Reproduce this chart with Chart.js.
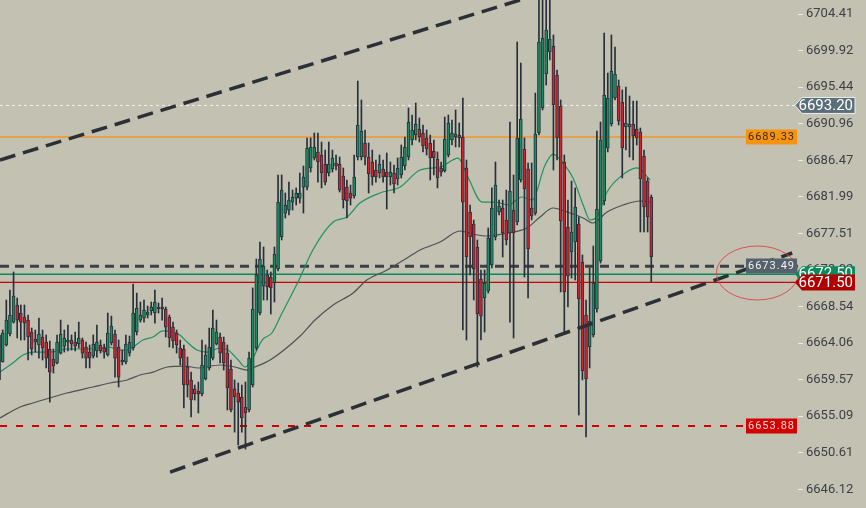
<!DOCTYPE html>
<html><head><meta charset="utf-8">
<script src="https://cdn.jsdelivr.net/npm/chart.js@4.4.0/dist/chart.umd.min.js"></script>
<style>html,body{margin:0;padding:0;background:#c2c1b2;overflow:hidden}canvas{display:block}</style>
</head><body>
<canvas id="c" width="866" height="508"></canvas>
<script>
// ---- data ----
const firstIndex = -1;
const opens = [6659.53,6661.73,6663.82,6665.17,6666.63,6668.73,6667.74,6667.25,6666.88,6665.41,6664.55,6663.82,6664.80,6664.18,6663.33,6662.10,6661.61,6662.83,6663.69,6664.18,6664.43,6664.18,6663.94,6664.43,6663.57,6662.95,6662.46,6663.08,6663.82,6663.45,6662.59,6664.06,6665.17,6663.57,6661.73,6661.73,6662.83,6663.45,6665.41,6666.88,6667.13,6667.50,6667.99,6667.74,6668.48,6668.48,6668.23,6667.25,6666.02,6665.29,6663.45,6663.33,6661.12,6659.53,6658.43,6658.18,6657.81,6659.65,6661.00,6662.22,6663.94,6664.80,6664.18,6662.83,6660.87,6658.43,6657.93,6657.44,6656.22,6655.85,6658.91,6663.45,6667.74,6671.05,6672.40,6672.16,6671.42,6673.14,6677.06,6680.00,6680.37,6681.35,6681.84,6681.84,6683.19,6683.19,6685.53,6686.75,6687.49,6687.12,6686.02,6684.91,6685.40,6686.14,6686.02,6684.54,6683.19,6682.46,6682.09,6686.88,6686.88,6688.59,6686.88,6686.26,6685.28,6684.91,6685.40,6685.03,6684.42,6684.91,6684.18,6684.67,6685.77,6686.88,6688.96,6689.57,6690.31,6689.82,6689.21,6688.59,6687.61,6686.63,6685.53,6685.16,6687.12,6688.96,6689.33,6689.57,6689.33,6685.53,6680.13,6678.66,6675.84,6671.91,6669.58,6670.44,6673.63,6677.06,6680.13,6680.62,6679.15,6677.55,6680.37,6678.90,6684.05,6687.86,6685.40,6680.62,6680.00,6689.82,6692.89,6697.05,6699.75,6700.49,6696.93,6693.13,6686.26,6678.29,6675.22,6676.45,6678.66,6674.00,6667.50,6663.57,6665.05,6668.23,6674.12,6681.48,6687.98,6690.92,6694.11,6695.58,6693.62,6690.55,6690.55,6690.92,6690.31,6689.94,6687.00,6683.93,6681.97];
const highs = [6665.66,6665.66,6669.34,6670.56,6672.77,6669.58,6668.73,6668.73,6667.50,6665.90,6665.66,6667.13,6665.66,6665.05,6664.31,6663.33,6665.05,6666.88,6665.66,6666.27,6665.05,6665.41,6666.63,6664.68,6664.18,6663.82,6665.05,6666.27,6664.43,6663.94,6667.74,6667.37,6665.66,6664.43,6663.20,6665.05,6664.92,6671.30,6670.19,6669.09,6669.34,6668.60,6669.09,6670.56,6668.97,6669.58,6668.48,6667.50,6666.63,6665.66,6664.43,6663.82,6662.34,6660.50,6658.91,6659.28,6664.43,6663.82,6665.90,6668.11,6666.88,6665.29,6664.80,6663.82,6661.98,6659.53,6659.16,6658.91,6659.28,6662.95,6670.81,6674.36,6676.45,6675.84,6673.02,6672.77,6675.84,6684.67,6684.67,6682.46,6683.80,6682.83,6683.08,6684.91,6685.77,6689.21,6689.21,6689.82,6689.82,6688.71,6687.73,6688.71,6687.73,6687.12,6686.88,6685.53,6684.05,6683.44,6687.12,6696.19,6693.87,6690.19,6688.59,6687.73,6686.51,6687.12,6686.51,6687.37,6686.26,6685.89,6686.75,6688.35,6689.33,6692.89,6692.03,6693.50,6691.66,6690.80,6690.19,6689.57,6688.96,6687.49,6686.26,6691.78,6692.03,6691.41,6692.64,6691.05,6694.11,6686.51,6680.99,6679.15,6676.70,6673.02,6673.02,6678.17,6683.08,6686.26,6681.60,6681.60,6682.83,6691.17,6684.67,6700.98,6698.40,6689.21,6686.14,6686.14,6694.72,6707.40,6706.74,6706.13,6706.74,6701.84,6697.54,6693.87,6687.12,6681.60,6683.93,6683.08,6679.52,6674.86,6669.34,6673.26,6675.96,6690.06,6691.17,6702.08,6697.18,6701.84,6700.37,6696.32,6695.09,6695.46,6694.36,6693.74,6693.74,6690.43,6687.73,6684.30,6682.22];
const lows = [6658.67,6661.73,6663.69,6664.92,6666.51,6664.68,6664.43,6664.43,6661.98,6662.59,6662.95,6662.22,6661.98,6661.00,6656.82,6660.38,6661.49,6662.71,6662.95,6663.08,6663.20,6663.08,6663.45,6662.22,6661.00,6661.00,6662.22,6662.34,6662.83,6662.22,6662.46,6663.82,6659.89,6658.67,6661.37,6661.49,6662.46,6663.20,6665.05,6666.63,6666.63,6667.13,6667.50,6666.51,6667.74,6666.88,6664.80,6663.57,6663.45,6662.83,6661.37,6656.09,6657.44,6654.99,6657.07,6655.48,6657.56,6659.53,6660.75,6661.98,6663.82,6661.61,6660.75,6655.85,6655.60,6653.14,6651.55,6653.14,6651.06,6655.60,6658.67,6663.20,6667.50,6669.34,6669.34,6667.62,6669.09,6672.89,6676.70,6679.39,6679.76,6680.37,6680.99,6681.23,6680.00,6682.83,6685.03,6686.51,6683.80,6683.08,6683.44,6684.54,6685.03,6685.28,6682.58,6680.62,6679.39,6680.99,6681.84,6686.51,6686.51,6685.89,6682.46,6683.44,6683.80,6684.30,6683.80,6680.50,6683.44,6682.46,6683.44,6684.30,6685.28,6686.51,6688.35,6688.96,6688.71,6687.49,6687.12,6684.05,6684.67,6683.08,6684.54,6685.03,6686.88,6688.35,6688.10,6688.10,6665.66,6664.43,6672.40,6669.34,6661.12,6664.43,6665.41,6670.19,6673.26,6676.70,6679.76,6674.61,6676.09,6666.63,6664.68,6678.54,6683.80,6672.16,6669.58,6679.15,6679.76,6689.57,6692.64,6695.70,6698.77,6685.28,6686.51,6670.32,6665.41,6668.48,6672.03,6671.79,6655.23,6659.53,6652.54,6661.00,6664.80,6667.86,6673.87,6680.99,6687.49,6690.68,6693.87,6690.80,6684.30,6687.73,6686.88,6686.51,6688.35,6677.68,6677.68,6677.68,6671.54];
const closes = [6665.05,6665.29,6666.88,6667.50,6669.82,6666.88,6666.63,6666.51,6664.80,6663.33,6664.18,6665.17,6663.45,6662.22,6660.50,6661.24,6664.18,6665.17,6664.68,6664.43,6663.94,6663.69,6664.68,6662.83,6662.22,6662.22,6663.94,6664.18,6663.08,6662.95,6665.29,6666.14,6662.22,6659.89,6661.98,6663.94,6664.18,6667.74,6668.36,6667.50,6668.11,6667.86,6668.48,6669.09,6668.23,6668.23,6666.02,6664.68,6664.31,6663.82,6662.22,6658.91,6658.91,6657.07,6657.81,6657.81,6661.37,6662.59,6663.57,6665.90,6665.41,6662.83,6661.61,6658.55,6655.85,6657.44,6656.82,6654.87,6655.48,6662.22,6668.23,6672.40,6674.36,6673.51,6670.93,6670.81,6674.98,6681.35,6682.83,6680.99,6681.60,6681.97,6682.46,6682.46,6684.42,6687.98,6688.10,6688.10,6686.26,6684.91,6683.80,6686.02,6686.75,6685.77,6682.83,6681.60,6681.48,6681.84,6684.42,6690.80,6690.06,6686.88,6684.79,6684.42,6684.42,6686.02,6684.42,6684.42,6685.03,6683.56,6685.53,6686.88,6688.10,6691.17,6690.19,6690.92,6689.33,6688.22,6687.86,6686.75,6686.75,6684.30,6685.03,6689.08,6691.05,6689.82,6689.70,6689.21,6681.35,6674.61,6677.06,6673.14,6667.62,6667.37,6671.42,6676.94,6680.62,6683.44,6680.86,6677.55,6676.70,6682.71,6677.55,6689.21,6691.54,6682.95,6675.59,6679.64,6689.70,6700.98,6701.47,6702.45,6701.35,6693.25,6689.21,6679.03,6670.32,6672.28,6677.68,6680.74,6669.46,6660.63,6659.65,6666.76,6671.42,6680.50,6688.96,6694.48,6694.11,6697.42,6697.05,6691.29,6687.98,6691.05,6690.92,6689.45,6689.21,6684.18,6680.74,6679.52,6674.61];

const fastMaIdx = [-0.75,2.8,5.6,8.4,13.1,17.7,23.3,29.6,31.8,34.3,36,38.7,41.5,44.2,47,48.9,50.9,53.6,56.4,60,62.2,65,66.9,68.8,71.6,74.3,77.1,81.5,85.6,91.2,95,98.6,104.1,109.7,115.2,120.7,125.7,128.4,132.3,135.9,139.5,143.3,146.1,149.7,151.9,154.6,157.4,160.2,162.1,164,166.8,170.4,175.1,178.7];
const fastMaVal = [6660.50,6661.61,6662.59,6662.95,6662.95,6663.33,6663.33,6663.57,6663.20,6663.20,6663.57,6664.43,6664.80,6665.54,6665.41,6665.05,6664.18,6663.20,6662.95,6663.45,6663.20,6661.98,6661.12,6661.98,6664.43,6665.29,6667.74,6671.54,6675.47,6678.90,6679.52,6681.23,6682.46,6683.19,6685.28,6685.65,6686.75,6684.42,6681.35,6681.35,6680.99,6681.97,6681.60,6685.89,6687.24,6686.14,6684.30,6680.99,6679.15,6679.52,6682.58,6684.42,6685.53,6684.05];
const slowMaIdx = [-0.75,4.8,8.4,17.7,24.9,29.6,34.3,37.9,41.5,45.4,50.3,53.9,60,64.1,67.4,69.6,73.8,82.1,86.2,91.2,96.7,100.5,106.1,111.6,115.2,120.7,126.2,129.8,133.7,139.2,144.7,148.3,151.9,155.8,160.2,162.9,166.8,171.2,175.9,178.7];
const slowMaVal = [6654.87,6656.22,6656.71,6657.93,6658.67,6659.16,6659.53,6660.14,6660.50,6661.12,6661.24,6661.00,6661.37,6661.12,6660.75,6661.12,6661.98,6664.92,6666.88,6668.73,6670.19,6671.79,6673.02,6674.49,6675.47,6676.45,6677.80,6677.43,6677.19,6677.55,6678.17,6679.52,6680.62,6680.13,6679.39,6678.78,6680.13,6680.99,6681.48,6681.35];

const yTicks = [6704.41,6699.92,6695.44,6690.96,6686.47,6681.99,6677.51,6673.02,6668.54,6664.06,6659.57,6655.09,6650.61,6646.12];
const levelValues = [6693.20, 6689.33, 6673.49, 6672.50, 6671.50, 6653.88];
const levelColors = ['#f2f2ec', '#e9a04a', '#384248', '#0d8a5c', '#c80000', '#cc0000'];
const levelWidths = [1, 2, 3, 1.6, 1.4, 2];
const levelDashes = [[3,3], [], [9,6], [], [], [7,9]];
const upperTrendIdx = [-0.75, 160];
const upperTrendVal = [6686.51, 6708.48];
const lowerTrendIdx = [46.2, 217.9];
const lowerTrendVal = [6648.24, 6675.10];
const boxValues = [6689.33, 6673.49, 6653.88];
const boxFills = ['#f6930f', '#56626b', '#d20000'];
const boxText = ['#3b2a10', '#f2f2f2', '#ffd6d6'];
const markerValues = [6693.20, 6672.50, 6671.50];
const markerFills = ['#5a6f7a', '#0a8a5a', '#b00000'];
const ellipseIdx = 208.3, ellipseVal = 6672.65;

const xMin = -0.745, xMax = 219.5;
const yMin = 6643.83, yMax = 6706.13;

// ---- build datasets ----
const idx = opens.map((_, k) => firstIndex + k);
const up = opens.map((o, k) => closes[k] >= o);
const GREEN = '#178f60', RED = '#d7202d', EDGE = '#27303a';

const datasets = [];
levelValues.forEach((v, k) => {
  datasets.push({type:'line', data:[{x:xMin,y:v},{x:xMax,y:v}], borderColor:levelColors[k], borderWidth:levelWidths[k], borderDash:levelDashes[k], pointRadius:0, order:20});
});
datasets.push({type:'line', data: slowMaIdx.map((x,k)=>({x, y:slowMaVal[k]})), borderColor:'#4d5254', borderWidth:1.2, pointRadius:0, cubicInterpolationMode:'monotone', order:15});
datasets.push({type:'line', data: fastMaIdx.map((x,k)=>({x, y:fastMaVal[k]})), borderColor:'#1f9264', borderWidth:1.2, pointRadius:0, cubicInterpolationMode:'monotone', order:14});
datasets.push({type:'bar', data: idx.map((x,k)=>({x, y:[lows[k], highs[k]]})), backgroundColor:EDGE, barThickness:1, grouped:false, minBarLength:1, order:10});
datasets.push({type:'bar', data: idx.map((x,k)=>({x, y:[opens[k], closes[k]]})), backgroundColor: up.map(u=>u?GREEN:RED), borderColor:EDGE, borderWidth:1, borderSkipped:false, barThickness:3, grouped:false, minBarLength:2, order:9});
datasets.push({type:'line', data: upperTrendIdx.map((x,k)=>({x, y:upperTrendVal[k]})), borderColor:'#2a3035', borderWidth:3.5, borderDash:[16,8], pointRadius:0, order:2});
datasets.push({type:'line', data: lowerTrendIdx.map((x,k)=>({x, y:lowerTrendVal[k]})), borderColor:'#2a3035', borderWidth:3.5, borderDash:[16,8], pointRadius:0, order:2});

const FONT = 'Roboto, "Noto Sans", sans-serif';

const bgPlugin = {id:'bg', beforeDraw(chart){const c=chart.ctx;c.save();c.fillStyle='#c2c1b2';c.fillRect(0,0,chart.width,chart.height);c.restore();}};

const annPlugin = {id:'ann', afterDraw(chart){
  const {ctx, chartArea:a, scales:{x, y}} = chart;
  ctx.save();
  // ellipse
  ctx.beginPath();
  ctx.ellipse(x.getPixelForValue(ellipseIdx), y.getPixelForValue(ellipseVal), 41, 27, 0, 0, Math.PI*2);
  ctx.strokeStyle = 'rgba(222,70,70,0.9)'; ctx.lineWidth = 1; ctx.stroke();
  // in-plot level boxes
  boxValues.forEach((v,k)=>{
    const py = Math.round(y.getPixelForValue(v));
    const r = a.right - 1, w = 51, h = 15;
    ctx.fillStyle = boxFills[k];
    ctx.fillRect(r-w, py-h/2, w, h);
    ctx.fillStyle = boxText[k];
    ctx.font = '11px ' + FONT;
    ctx.letterSpacing = '1px';
    ctx.textAlign = 'center'; ctx.textBaseline = 'middle';
    ctx.fillText(v.toFixed(2), r - w/2, py + 0.5);
  });
  ctx.letterSpacing = '0px';
  // axis markers
  markerValues.forEach((v,k)=>{
    const py = y.getPixelForValue(v);
    const l = a.right - 3, r = 855, h = 16;
    ctx.beginPath();
    ctx.moveTo(l, py); ctx.lineTo(l+7, py-h/2); ctx.lineTo(r, py-h/2); ctx.lineTo(r, py+h/2); ctx.lineTo(l+7, py+h/2); ctx.closePath();
    ctx.fillStyle = markerFills[k]; ctx.fill();
    if (k === 0) { ctx.strokeStyle = '#eef0ee'; ctx.lineWidth = 1; ctx.stroke(); }
    ctx.fillStyle = '#ffffff';
    ctx.font = '15px ' + FONT;
    ctx.textAlign = 'right'; ctx.textBaseline = 'middle';
    ctx.fillText(v.toFixed(2), r - 2, py + 0.5);
  });
  ctx.restore();
}};

new Chart(document.getElementById('c'), {
  type: 'bar',
  data: { datasets },
  options: {
    responsive: false, animation: false, devicePixelRatio: 1,
    layout: { padding: 0, autoPadding: false },
    plugins: { legend: {display:false}, tooltip: {enabled:false} },
    scales: {
      x: { type:'linear', min:xMin, max:xMax, display:false, offset:false },
      y: { type:'linear', position:'right', min:yMin, max:yMax,
        afterFit(s){ s.width = 68; s.paddingTop = 0; s.paddingBottom = 0; },
        afterBuildTicks(s){ s.ticks = yTicks.map(v=>({value:v})); },
        grid: { drawOnChartArea:false, drawTicks:true, tickLength:5, tickColor:'#ecece4', tickWidth:1 },
        border: { display:false },
        ticks: { autoSkip:false, padding:3, color:'#3c4147', font:{family:FONT, size:13}, callback:(v)=>Number(v).toFixed(2) }
      }
    }
  },
  plugins: [bgPlugin, annPlugin]
});
</script>
</body></html>
